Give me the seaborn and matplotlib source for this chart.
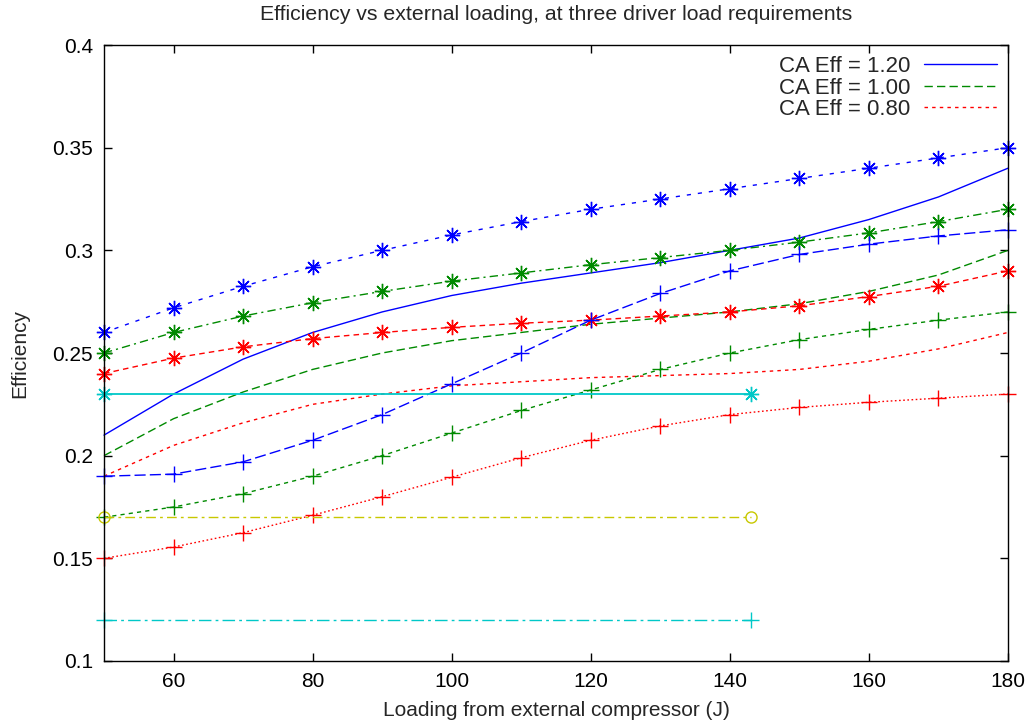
import matplotlib
matplotlib.use("Agg")
import matplotlib.pyplot as plt
import matplotlib.ticker as mticker
import numpy as np
import pandas as pd
import seaborn as sns

# Loading from the external compressor (J)
loading = [50, 60, 70, 80, 90, 100, 110, 120, 130, 140, 150, 160, 170, 180]

# Efficiency curves at three CA efficiencies (no markers)
eff_ca120 = [0.210, 0.230, 0.247, 0.260, 0.270, 0.278, 0.284, 0.289, 0.294, 0.300, 0.306, 0.315, 0.326, 0.340]
eff_ca100 = [0.200, 0.218, 0.231, 0.242, 0.250, 0.256, 0.260, 0.264, 0.267, 0.270, 0.274, 0.280, 0.288, 0.300]
eff_ca080 = [0.190, 0.205, 0.216, 0.225, 0.230, 0.234, 0.236, 0.238, 0.239, 0.240, 0.242, 0.246, 0.252, 0.260]

# Upper bound curves (star markers)
upper_ca120 = [0.260, 0.272, 0.2825, 0.292, 0.300, 0.3075, 0.314, 0.320, 0.325, 0.330, 0.335, 0.340, 0.345, 0.350]
upper_ca100 = [0.250, 0.260, 0.268, 0.2745, 0.280, 0.285, 0.289, 0.293, 0.2965, 0.300, 0.304, 0.3085, 0.314, 0.320]
upper_ca080 = [0.240, 0.2475, 0.253, 0.257, 0.260, 0.2625, 0.2645, 0.266, 0.268, 0.270, 0.273, 0.2775, 0.2825, 0.290]

# Lower bound curves (plus markers)
lower_ca120 = [0.190, 0.191, 0.197, 0.2075, 0.220, 0.235, 0.250, 0.266, 0.279, 0.290, 0.298, 0.303, 0.307, 0.310]
lower_ca100 = [0.170, 0.175, 0.1815, 0.190, 0.200, 0.211, 0.222, 0.232, 0.242, 0.250, 0.2565, 0.2615, 0.266, 0.270]
lower_ca080 = [0.150, 0.1555, 0.1625, 0.171, 0.180, 0.1895, 0.199, 0.2075, 0.2145, 0.220, 0.2235, 0.226, 0.228, 0.230]

# Reference levels drawn across part of the loading range
ref_loading = [50, 143]
ref_high = [0.23, 0.23]
ref_mid = [0.17, 0.17]
ref_low = [0.12, 0.12]

legend_labels = ["CA Eff = 1.20", "CA Eff = 1.00", "CA Eff = 0.80"]

sns.set_theme(style="white")
plt.rcParams["font.family"] = ["Liberation Sans", "DejaVu Sans"]

BLUE = "#0000ff"
GREEN = "#008a00"
RED = "#ff0000"
CYAN = "#00c8c8"
OLIVE = "#c8c800"
STAR = (8, 2, 0)

fig = plt.figure(figsize=(10.29, 7.26), dpi=100)
ax = fig.add_axes([104 / 1029, 1 - 661 / 726, (1008 - 104) / 1029, (661 - 45) / 726])


def draw(x, y, color, ls, marker=None, ms=9, lw=1.0):
    df = pd.DataFrame({"x": x, "y": y})
    sns.lineplot(data=df, x="x", y="y", ax=ax, color=color, linestyle=ls,
                 marker=marker, markersize=ms, markeredgewidth=1.0,
                 markerfacecolor="none" if marker == "o" else color,
                 markeredgecolor=color, linewidth=lw, sort=False,
                 estimator=None, errorbar=None, legend=False, clip_on=False)
    return ax.lines[-1]


h1 = draw(loading, eff_ca120, BLUE, "-")
h2 = draw(loading, eff_ca100, GREEN, (0, (6, 3)))
h3 = draw(loading, eff_ca080, RED, (0, (2.5, 3)))

draw(loading, upper_ca120, BLUE, (0, (3, 5)), marker=STAR, ms=11)
draw(loading, upper_ca100, GREEN, (0, (6, 3, 1.5, 3)), marker=STAR, ms=11)
draw(loading, upper_ca080, RED, (0, (4, 3)), marker=STAR, ms=11)

draw(loading, lower_ca120, BLUE, (0, (8, 3)), marker="+", ms=11)
draw(loading, lower_ca100, GREEN, (0, (3, 3)), marker="+", ms=11)
draw(loading, lower_ca080, RED, (0, (1.2, 1.8)), marker="+", ms=11)

draw(ref_loading, ref_high, CYAN, "-", marker=STAR, ms=11, lw=1.3)
draw(ref_loading, ref_mid, OLIVE, (0, (7, 3, 2, 3)), marker="o", ms=8)
draw(ref_loading, ref_low, CYAN, (0, (9, 3, 2, 3)), marker="+", ms=11)

ax.set_xlim(50, 180)
ax.set_ylim(0.1, 0.4)
ax.xaxis.set_major_locator(mticker.MultipleLocator(20))
ax.xaxis.set_major_formatter(mticker.FuncFormatter(lambda v, p: "" if v < 55 else f"{v:g}"))
ax.yaxis.set_major_locator(mticker.MultipleLocator(0.05))
ax.yaxis.set_major_formatter(mticker.FuncFormatter(lambda v, p: f"{round(v, 3):g}"))

ax.tick_params(direction="in", length=6, width=1, colors="black", labelsize=15,
               top=True, right=True, bottom=True, left=True, pad=8)
for s in ax.spines.values():
    s.set_visible(True)
    s.set_color("black")
    s.set_linewidth(1.0)

ax.set_xlabel("Loading from external compressor (J)", fontsize=15)
ax.xaxis.set_label_coords(0.5, (661 - 711) / 616)
ax.xaxis.label.set_va("center")
ax.set_ylabel("Efficiency", fontsize=15)
ax.yaxis.set_label_coords((20 - 104) / 904, 0.5)
ax.yaxis.label.set_va("center")
ax.set_title("Efficiency vs external loading, at three driver load requirements",
             fontsize=15.3, y=(661 - 15) / 616, va="center", pad=0)

leg = ax.legend([h1, h2, h3], legend_labels, loc="upper right", frameon=False,
                markerfirst=False, fontsize=16, handlelength=3.3,
                handletextpad=0.6, labelspacing=0.02, borderaxespad=0.2,
                borderpad=0.3)
for t in leg.get_texts():
    t.set_ha("right")

fig.savefig("out.png", dpi=100)
